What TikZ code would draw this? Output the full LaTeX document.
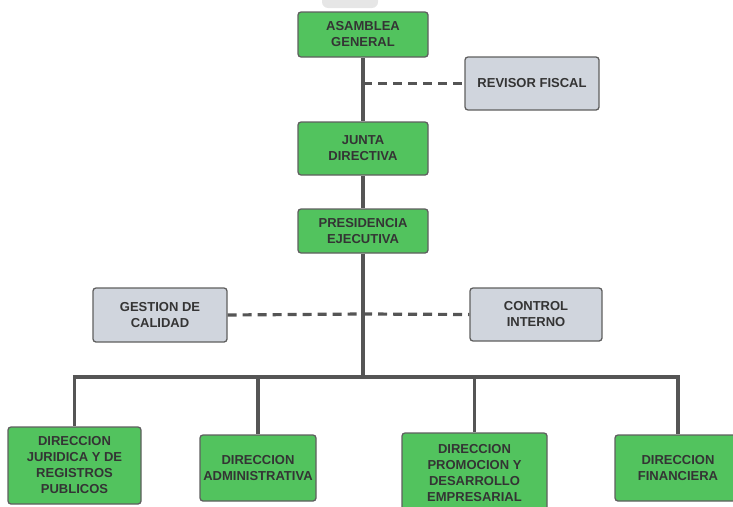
\documentclass[tikz,border=0pt]{standalone}
\usepackage{fontspec}
\setmainfont{Liberation Sans}
\usetikzlibrary{arrows.meta}
\definecolor{boxgreen}{RGB}{82,195,94}
\definecolor{boxgray}{RGB}{208,213,221}
\definecolor{edgegray}{RGB}{95,95,95}
\definecolor{linegray}{RGB}{85,85,85}
\definecolor{txt}{RGB}{52,52,52}
\definecolor{ghost}{RGB}{230,230,230}
\tikzset{
  base/.style={draw=edgegray, line width=1.3pt, rounded corners=3pt, inner sep=0pt,
    align=center, text=txt, font=\fontsize{13}{16}\selectfont\bfseries},
  gbox/.style={base, fill=boxgreen},
  ybox/.style={base, fill=boxgray},
  conn/.style={draw=linegray, line width=3.2pt},
  dconn/.style={draw=linegray, line width=3.2pt, dash pattern=on 9pt off 6pt},
}
\begin{document}
\begin{tikzpicture}[x=1pt,y=-1pt]
\useasboundingbox (0,0) rectangle (733,506);
\clip (0,0) rectangle (733,506);
% faint shape at top edge
\fill[ghost, rounded corners=6pt] (322,-20) rectangle (378,8);
% nodes
\node[gbox, minimum width=130pt, minimum height=45pt] (ag) at (363,34.5) {ASAMBLEA\\GENERAL};
\node[ybox, minimum width=134pt, minimum height=53pt] (rf) at (532,83.5) {REVISOR FISCAL};
\node[gbox, minimum width=130pt, minimum height=53pt] (jd) at (363,148.5) {JUNTA\\DIRECTIVA};
\node[gbox, minimum width=130pt, minimum height=44pt] (pe) at (363,231) {PRESIDENCIA\\EJECUTIVA};
\node[ybox, minimum width=134pt, minimum height=54pt] (gc) at (160,315) {GESTION DE\\CALIDAD};
\node[ybox, minimum width=132pt, minimum height=53pt] (ci) at (536,314.5) {CONTROL\\INTERNO};
\node[gbox, minimum width=133pt, minimum height=77pt] (d1) at (74.5,465.5) {DIRECCION\\JURIDICA Y DE\\REGISTROS\\PUBLICOS};
\node[gbox, minimum width=116pt, minimum height=66pt] (d2) at (258,468) {DIRECCION\\ADMINISTRATIVA};
\node[gbox, minimum width=145pt, minimum height=81pt] (d3) at (474.5,473.5) {DIRECCION\\PROMOCION Y\\DESARROLLO\\EMPRESARIAL};
\node[gbox, minimum width=126pt, minimum height=66pt] (d4) at (678,468) {DIRECCION\\FINANCIERA};
% coordinates
\coordinate (trf) at (363,83.5);
\coordinate (tq) at (363,314);
\coordinate (bus) at (363,377);
\coordinate (b1) at (74.5,377);
\coordinate (b2) at (258,377);
\coordinate (b3) at (474.5,377);
\coordinate (b4) at (678,377);
% connectors
\draw[conn] (ag) -- (jd);
\draw[dconn] (trf) -- (rf.west);
\draw[conn] (jd) -- (pe);
\draw[linegray, -{Stealth[length=4pt,width=4pt]}, line width=0.6pt] (363,194) -- (363,202);
\draw[conn] (pe.south) -- (bus);
\draw[dconn] (gc.east) -- (tq);
\draw[dconn] (tq) -- (ci.west);
\draw[conn] ([xshift=-1.6pt]b1) -- ([xshift=1.6pt]b4);
\draw[conn] (b1) -- (d1.north);
\draw[conn] (b2) -- (d2.north);
\draw[conn] (b3) -- (d3.north);
\draw[conn] (b4) -- (d4.north);
\end{tikzpicture}
\end{document}
